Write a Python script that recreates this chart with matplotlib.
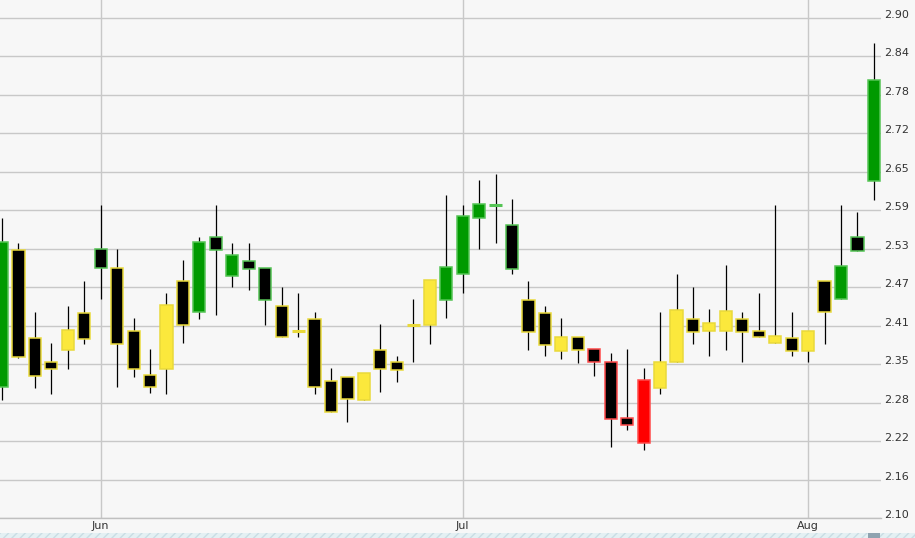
import matplotlib.pyplot as plt
import matplotlib.transforms as mtransforms
from matplotlib.patches import Rectangle

# datos OHLC por sesion (indice de sesion en el eje x)
opens = [2.31, 2.529, 2.388, 2.350, 2.369, 2.428, 2.531, 2.500, 2.399, 2.329,
         2.338, 2.480, 2.430, 2.550, 2.488, 2.511, 2.500, 2.440, 2.400, 2.419,
         2.320, 2.326, 2.289, 2.369, 2.349, 2.409, 2.409, 2.449, 2.490, 2.580,
         2.600, 2.569, 2.449, 2.428, 2.368, 2.390, 2.370, 2.350, 2.260, 2.220,
         2.308, 2.350, 2.418, 2.399, 2.399, 2.419, 2.399, 2.380, 2.388, 2.368,
         2.480, 2.450, 2.549, 2.639]
highs = [2.580, 2.540, 2.430, 2.380, 2.439, 2.479, 2.600, 2.530, 2.420, 2.370,
         2.460, 2.513, 2.550, 2.600, 2.540, 2.540, 2.500, 2.470, 2.460, 2.430,
         2.340, 2.326, 2.332, 2.410, 2.359, 2.451, 2.480, 2.616, 2.600, 2.641,
         2.650, 2.610, 2.479, 2.439, 2.420, 2.390, 2.370, 2.364, 2.370, 2.340,
         2.430, 2.490, 2.470, 2.434, 2.505, 2.430, 2.460, 2.600, 2.430, 2.400,
         2.480, 2.600, 2.590, 2.860]
lows = [2.289, 2.356, 2.308, 2.299, 2.339, 2.379, 2.451, 2.310, 2.325, 2.300,
        2.299, 2.380, 2.419, 2.425, 2.470, 2.465, 2.409, 2.389, 2.390, 2.299,
        2.269, 2.253, 2.289, 2.301, 2.318, 2.350, 2.379, 2.420, 2.460, 2.531,
        2.540, 2.491, 2.369, 2.360, 2.354, 2.348, 2.327, 2.214, 2.240, 2.209,
        2.299, 2.350, 2.379, 2.360, 2.369, 2.349, 2.389, 2.380, 2.360, 2.349,
        2.379, 2.450, 2.527, 2.609]
closes = [2.541, 2.358, 2.327, 2.339, 2.400, 2.387, 2.500, 2.379, 2.339, 2.309,
          2.440, 2.409, 2.541, 2.529, 2.520, 2.498, 2.449, 2.389, 2.400, 2.309,
          2.269, 2.291, 2.332, 2.338, 2.337, 2.409, 2.480, 2.501, 2.583, 2.602,
          2.600, 2.498, 2.398, 2.377, 2.390, 2.369, 2.350, 2.259, 2.249, 2.321,
          2.350, 2.432, 2.398, 2.412, 2.431, 2.398, 2.389, 2.392, 2.368, 2.400,
          2.429, 2.503, 2.527, 2.800]
# senal de color de cada vela: g = verde, y = amarillo, r = rojo
senal = list("gyyyyygyyyyygggggyyyyyyyyyygggggyyyyrrrryyyyyyyyyyyggg")

meses = ["Jun", "Jul", "Aug"]
meses_pos = [6, 28, 49]

yticks = [2.10 + k * 0.8 / 13 for k in range(14)]

relleno = {"g": "#009a00", "y": "#fbe83c", "r": "#ff0000"}
borde = {"g": "#55c455", "y": "#e9d93a", "r": "#ff4a4a"}

fondo = "#f7f7f7"
fig = plt.figure(figsize=(9.15, 5.38), dpi=100, facecolor=fondo)
ax = fig.add_axes([0, 1 - 518 / 538, 881 / 915, 518 / 538])
ax.set_facecolor(fondo)

x = list(range(len(opens)))

# mechas
ax.vlines(x, lows, highs, color="black", linewidth=0.9, zorder=2)

# cuerpos
for i in x:
    o, c, s = opens[i], closes[i], senal[i]
    if c == o:
        # sin cambio: solo una raya del color de la senal
        ax.hlines(o, i - 0.39, i + 0.39, color=borde[s], linewidth=2.2, zorder=3)
        continue
    fc = relleno[s] if c > o else "black"
    ax.bar(i, c - o, bottom=o, width=0.74, color=fc,
           edgecolor=borde[s], linewidth=1.1, zorder=3)

ax.set_xlim(-0.12, 53.43)
ax.set_ylim(2.10, 2.10 + 518 / 625)

ax.set_yticks(yticks)
ax.set_yticklabels([f"{v:.2f}" for v in yticks])
ax.yaxis.tick_right()
ax.set_xticks(meses_pos)
ax.set_xticklabels(meses)

ax.grid(True, color="#c8c8c8", linewidth=1)
ax.set_axisbelow(True)
ax.tick_params(axis="both", length=0, labelsize=8, labelcolor="#333333")
ax.tick_params(axis="y", pad=2)
ax.tick_params(axis="x", pad=2)

# etiquetas del eje y un poco arriba de la grilla
desplazar = mtransforms.ScaledTranslation(0, 4 / 100, fig.dpi_scale_trans)
for lab in ax.get_yticklabels():
    lab.set_transform(lab.get_transform() + desplazar)
    lab.set_horizontalalignment("left")

for lado in ["top", "left", "right"]:
    ax.spines[lado].set_visible(False)
ax.spines["bottom"].set_color("#c0c0c0")
ax.spines["bottom"].set_linewidth(1)

# franja del navegador abajo
fig.patches.append(Rectangle((0, 0), 1, 5 / 538, transform=fig.transFigure,
                             facecolor="#e4f0f3", edgecolor="#c9dde4",
                             hatch="////", linewidth=0, zorder=0))
fig.patches.append(Rectangle((868 / 915, 0), 12 / 915, 5 / 538,
                             transform=fig.transFigure, facecolor="#8fa3b0",
                             linewidth=0, zorder=1))

fig.savefig("out.png", dpi=100, facecolor=fondo)
